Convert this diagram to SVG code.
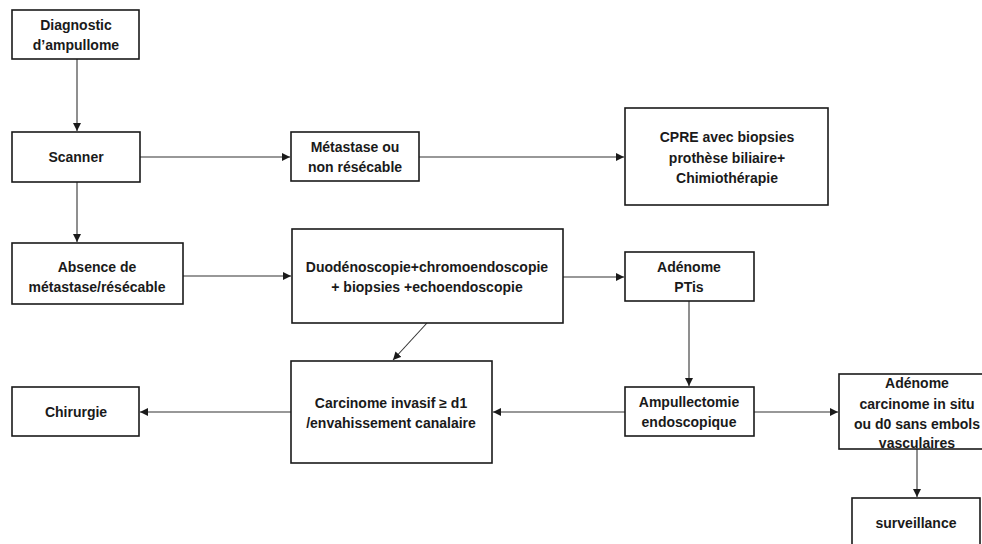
<svg xmlns="http://www.w3.org/2000/svg" width="982" height="544" viewBox="0 0 982 544">
<defs>
<marker id="ah" viewBox="0 0 8 8" refX="8" refY="4" markerWidth="8" markerHeight="8" markerUnits="userSpaceOnUse" orient="auto">
<path d="M0,0 L8,4 L0,8 z" fill="#1a1a1a"/>
</marker>
<style>
rect{fill:#fff;stroke:#1a1a1a;stroke-width:1.6}
text{font-family:"Liberation Sans",Arial,sans-serif;font-weight:bold;font-size:14px;fill:#1a1a1a;text-anchor:middle}
.c line{stroke:#333;stroke-width:1.1;marker-end:url(#ah)}
</style>
</defs>
<rect x="0" y="0" width="982" height="544" style="fill:#fff;stroke:none"/>
<g class="c" id="connectors">
<line x1="77" y1="59" x2="77" y2="131"/>
<line x1="140" y1="157" x2="290" y2="157"/>
<line x1="77" y1="182" x2="77" y2="242"/>
<line x1="183" y1="276" x2="291" y2="276"/>
<line x1="419" y1="157" x2="624" y2="157"/>
<line x1="563" y1="277" x2="624" y2="277"/>
<line x1="427" y1="323" x2="393" y2="360"/>
<line x1="689" y1="301" x2="689" y2="386"/>
<line x1="625" y1="412" x2="493" y2="412"/>
<line x1="291" y1="412" x2="140" y2="412"/>
<line x1="754" y1="412" x2="838" y2="412"/>
<line x1="917" y1="449" x2="917" y2="497"/>
</g>
<g id="n-diagnostic"><rect x="12" y="10" width="127" height="49"/><text x="76" y="30">Diagnostic</text><text x="76" y="50">d’ampullome</text></g>
<g id="n-scanner"><rect x="12" y="132" width="128" height="50"/><text x="76" y="162">Scanner</text></g>
<g id="n-absence"><rect x="12" y="243" width="171" height="61"/><text x="97" y="272">Absence de</text><text x="97" y="292">métastase/résécable</text></g>
<g id="n-metastase"><rect x="291" y="132" width="128" height="49"/><text x="355" y="152">Métastase ou</text><text x="355" y="172">non résécable</text></g>
<g id="n-cpre"><rect x="625" y="108" width="203" height="97"/><text x="727" y="142">CPRE avec biopsies</text><text x="727" y="163">prothèse biliaire+</text><text x="727" y="183">Chimiothérapie</text></g>
<g id="n-duodeno"><rect x="292" y="229" width="271" height="94"/><text x="427" y="272">Duodénoscopie+chromoendoscopie</text><text x="427" y="292">+ biopsies +echoendoscopie</text></g>
<g id="n-adenome"><rect x="625" y="252" width="129" height="49"/><text x="689" y="272">Adénome</text><text x="689" y="292">PTis</text></g>
<g id="n-ampullectomie"><rect x="625" y="387" width="129" height="49"/><text x="689" y="407">Ampullectomie</text><text x="689" y="427">endoscopique</text></g>
<g id="n-carcinome"><rect x="291" y="361" width="201" height="102"/><text x="391" y="408">Carcinome invasif ≥ d1</text><text x="391" y="428">/envahissement canalaire</text></g>
<g id="n-chirurgie"><rect x="12" y="387" width="127" height="49"/><text x="76" y="417">Chirurgie</text></g>
<g id="n-adenome-cis"><rect x="839" y="374" width="150" height="75"/><text x="917" y="388">Adénome</text><text x="917" y="409">carcinome in situ</text><text x="917" y="429">ou d0 sans embols</text><text x="917" y="448">vasculaires</text></g>
<g id="n-surveillance"><rect x="852" y="498" width="128" height="52"/><text x="916" y="528">surveillance</text></g>
</svg>
